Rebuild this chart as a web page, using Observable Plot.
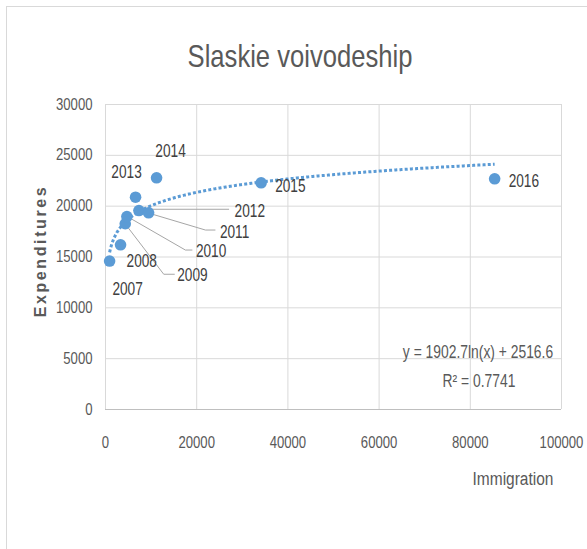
<!DOCTYPE html>
<html>
<head>
<meta charset="utf-8">
<script src="https://cdn.jsdelivr.net/npm/d3@7"></script>
<script src="https://cdn.jsdelivr.net/npm/@observablehq/plot@0.6"></script>
<style>
  html, body { margin: 0; padding: 0; background: #fff; }
  #wrap { position: relative; width: 587px; height: 549px; overflow: hidden; }
  #wrap svg { position: absolute; left: 0; top: 0; overflow: visible; }
  .ov { position: absolute; white-space: nowrap; line-height: 1; font-family: "Liberation Sans", Arial, sans-serif; color: #595959; }
  #frame { position: absolute; left: 6px; top: 6px; width: 590px; height: 560px; border-left: 1.5px solid #d9d9d9; border-top: 1.5px solid #d9d9d9; }
</style>
</head>
<body>
<div id="wrap">
  <div id="frame"></div>
</div>
<script>
// ---- data ----
const years = ["2007", "2008", "2009", "2010", "2011", "2012", "2013", "2014", "2015", "2016"];
const immigration = [900, 3300, 4330, 4690, 7330, 9450, 6590, 11200, 34130, 85340];
const expenditures = [14600, 16200, 18270, 18980, 19570, 19350, 20880, 22790, 22300, 22690];
const xTicks = [0, 20000, 40000, 60000, 80000, 100000];
const yTicks = [0, 5000, 10000, 15000, 20000, 25000, 30000];
const trendSlope = 1902.7;      // y = a ln(x) + b
const trendIntercept = 2516.6;
const rSquared = 0.7741;
const titleText = "Slaskie voivodeship";
const xTitle = "Immigration";
const yTitle = "Expenditures";

// ---- build table ----
const data = years.map((yr, i) => ({year: yr, x: immigration[i], y: expenditures[i]}));
const xMin = d3.min(immigration), xMax = d3.max(immigration);
const trend = d3.range(xMin, xMax, 200).concat([xMax]).map(x => ({x, y: trendSlope * Math.log(x) + trendIntercept}));

// ---- label styles (pixel offsets from point) ----
const labelStyle = {
  "2007": {dx: 18, dy: 28, anchor: "middle"},
  "2008": {dx: 6, dy: 16, anchor: "start"},
  "2009": {dx: 52, dy: 51, anchor: "start", leader: [[39, 51], [50, 51]]},
  "2010": {dx: 69, dy: 35, anchor: "start", leader: [[59, 34], [66, 34]]},
  "2011": {dx: 81, dy: 22, anchor: "start", leader: [[67, 20], [77, 20]]},
  "2012": {dx: 86, dy: -2, anchor: "start", leader: [[2, -3], [81, -3]]},
  "2013": {dx: -9, dy: -25, anchor: "middle"},
  "2014": {dx: 14, dy: -27, anchor: "middle"},
  "2015": {dx: 14, dy: 3, anchor: "start"},
  "2016": {dx: 14, dy: 2, anchor: "start"}
};

const blue = "#5B9BD5";
const font = "'Liberation Sans', Arial, sans-serif";
const squeeze = 0.82;      // narrow text look (axis ticks)
const labelSqueeze = 0.76; // data labels

const leaderMark = (index, scales) => {
  const g = d3.create("svg:g").attr("fill", "none").attr("stroke", "#a6a6a6").attr("stroke-width", 1);
  for (const d of data) {
    const s = labelStyle[d.year];
    if (!s.leader) continue;
    const px = scales.x(d.x), py = scales.y(d.y);
    const pts = [[px, py], ...s.leader.map(([a, b]) => [px + a, py + b])];
    g.append("path").attr("d", d3.line()(pts));
  }
  return g.node();
};

const labelMarks = data.map(d => {
  const s = labelStyle[d.year];
  return Plot.text([d], {x: "x", y: "y", text: "year", dx: s.dx, dy: s.dy, textAnchor: s.anchor,
    fill: "#404040", fontSize: 18, className: "dlabel"});
});

const chart = Plot.plot({
  width: 587,
  height: 549,
  marginLeft: 105,
  marginRight: 26,
  marginTop: 104,
  marginBottom: 140,
  style: {fontFamily: font, fontSize: "16px", color: "#595959", background: "transparent", overflow: "visible"},
  x: {domain: [0, 100000], ticks: xTicks, tickFormat: d => String(d)},
  y: {domain: [0, 30000], ticks: yTicks, tickFormat: d => String(d)},
  marks: [
    Plot.gridX(xTicks, {stroke: "#d9d9d9", strokeOpacity: 1, strokeWidth: 1}),
    Plot.gridY(yTicks, {stroke: "#d9d9d9", strokeOpacity: 1, strokeWidth: 1}),
    Plot.ruleY([0], {stroke: "#bfbfbf", strokeWidth: 1}),
    Plot.axisX({ticks: xTicks, tickSize: 0, tickPadding: 27, label: null, tickFormat: d => String(d), fill: "#595959"}),
    Plot.axisY({ticks: yTicks, tickSize: 0, tickPadding: 13, label: null, tickFormat: d => String(d), fill: "#595959"}),
    Plot.line(trend, {x: "x", y: "y", stroke: blue, strokeWidth: 3, strokeDasharray: "3 2.2", strokeLinecap: "butt"}),
    leaderMark,
    Plot.dot(data, {x: "x", y: "y", r: 5.8, fill: blue, stroke: "none"}),
    ...labelMarks
  ]
});

// horizontally condense SVG texts around their anchor points
chart.querySelectorAll("text").forEach(t => {
  const s = t.closest(".dlabel") ? labelSqueeze : squeeze;
  const tr = t.getAttribute("transform") || "";
  const x = parseFloat(t.getAttribute("x")) || 0;
  t.setAttribute("transform", `${tr} translate(${x},0) scale(${s},1) translate(${-x},0)`);
});

const wrap = document.getElementById("wrap");
wrap.appendChild(chart);

function overlay(text, cx, cy, size, extra = {}) {
  const el = document.createElement("div");
  el.className = "ov";
  el.textContent = text;
  el.style.fontSize = size + "px";
  el.style.left = cx + "px";
  el.style.top = cy + "px";
  Object.assign(el.style, extra.style || {});
  el.style.transform = "translate(-50%, -50%) " + (extra.transform || `scaleX(${squeeze})`);
  wrap.appendChild(el);
  return el;
}

overlay(titleText, 300, 56, 32, {transform: "scaleX(0.8)"});
overlay(xTitle, 513, 479, 18, {transform: "scaleX(0.86)"});
overlay(yTitle, 41, 251, 16, {transform: "rotate(-90deg)", style: {fontWeight: "bold", letterSpacing: "2.6px"}});
overlay(`y = ${trendSlope}ln(x) + ${trendIntercept}`, 478, 352, 18, {transform: "scaleX(0.77)"});
overlay(`R² = ${rSquared}`, 479, 381, 18, {transform: "scaleX(0.77)"});
</script>
</body>
</html>
